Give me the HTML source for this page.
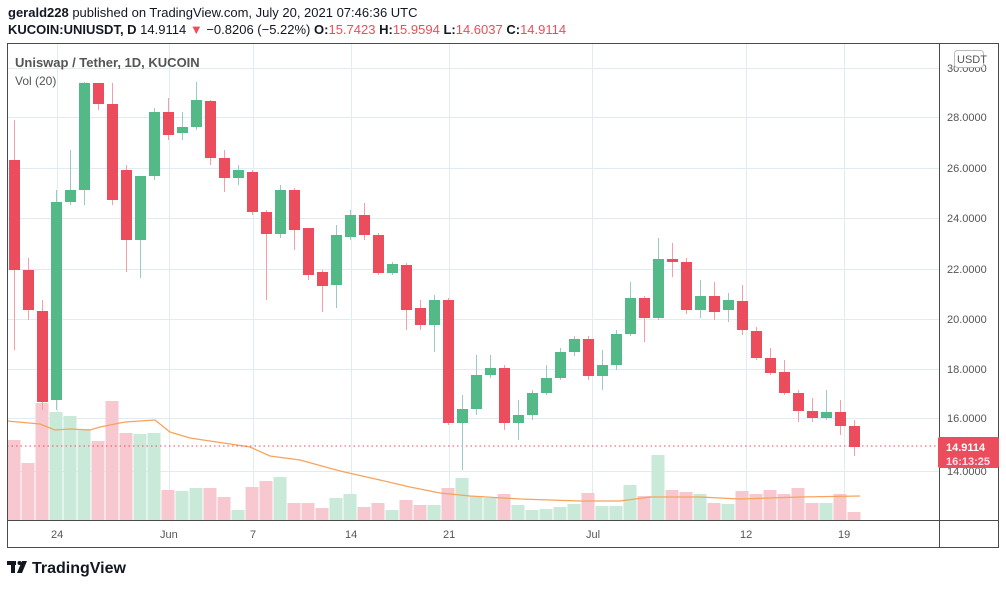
<!DOCTYPE html>
<html><head><meta charset="utf-8"><style>
body{margin:0;background:#fff;width:1006px;height:585px;overflow:hidden;font-family:"Liberation Sans",sans-serif}
svg text{font-family:"Liberation Sans",sans-serif}
</style></head><body>
<svg id="s" width="1006" height="585" xmlns="http://www.w3.org/2000/svg">
<text x="8" y="17" font-size="13" fill="#131722"><tspan font-weight="bold">gerald228</tspan> published on TradingView.com, July 20, 2021 07:46:36 UTC</text>
<text x="8" y="34" font-size="13" fill="#131722"><tspan font-weight="bold">KUCOIN:UNIUSDT, D</tspan> 14.9114 <tspan fill="#eb4d5c">▼</tspan> −0.8206 (−5.22%) <tspan font-weight="bold">O:</tspan><tspan fill="#eb4d5c">15.7423</tspan> <tspan font-weight="bold">H:</tspan><tspan fill="#eb4d5c">15.9594</tspan> <tspan font-weight="bold">L:</tspan><tspan fill="#eb4d5c">14.6037</tspan> <tspan font-weight="bold">C:</tspan><tspan fill="#eb4d5c">14.9114</tspan></text>
<g id="grid" stroke="#e1ecf2" stroke-width="1"></g>
<g id="vol"></g>
<polyline fill="none" stroke="#f7a35c" stroke-width="1.3" points="7,421 40,424 55,430 70,429 90,430 100,427 125,422 155,420 170,432 190,438 250,447 270,456 300,460 340,471 380,480 410,487 440,493 470,496 520,499 580,501 620,501 650,497 700,497 740,499 800,497 860,496"/>
<line x1="7" y1="446" x2="939" y2="446" stroke="#eb4d5c" stroke-dasharray="1.5,3"/>
<g id="c"></g>
<rect x="7.5" y="43.5" width="991" height="504" fill="none" stroke="#4a4a4a"/>
<line x1="939.5" y1="43" x2="939.5" y2="548" stroke="#4a4a4a"/>
<line x1="7" y1="520.5" x2="999" y2="520.5" stroke="#4a4a4a"/>
<text x="15" y="67" font-size="13" font-weight="bold" fill="#555">Uniswap / Tether, 1D, KUCOIN</text>
<text x="15" y="85" font-size="12" fill="#555">Vol (20)</text>
<g font-size="11" fill="#555">
<text x="947" y="72">30.0000</text><text x="947" y="121">28.0000</text><text x="947" y="172">26.0000</text><text x="947" y="222">24.0000</text><text x="947" y="273">22.0000</text><text x="947" y="323">20.0000</text><text x="947" y="373">18.0000</text><text x="947" y="422">16.0000</text><text x="947" y="475">14.0000</text>
<text x="51" y="538">24</text><text x="160" y="538">Jun</text><text x="250" y="538">7</text><text x="345" y="538">14</text><text x="443" y="538">21</text><text x="586" y="538">Jul</text><text x="740" y="538">12</text><text x="838" y="538">19</text>
</g>
<rect x="954.5" y="50.5" width="29" height="17" rx="3" fill="#fff" stroke="#bbb"/>
<text x="957" y="63" font-size="11" fill="#555">USDT</text>
<rect x="938" y="437" width="61" height="31" rx="2" fill="#eb4d5c"/>
<text x="946" y="451" font-size="11" font-weight="bold" fill="#fff">14.9114</text>
<text x="946" y="465" font-size="11" font-weight="bold" fill="#fde">16:13:25</text>
<g fill="#131722"><rect x="7" y="561" width="9" height="4"/><rect x="11" y="561" width="4" height="12"/><circle cx="19.5" cy="563" r="2"/><polygon points="22,561 27,561 22,573 17,573"/></g>
<text x="32" y="573" font-size="16" font-weight="bold" fill="#131722">TradingView</text>
</svg>
<script>
const NS="http://www.w3.org/2000/svg";
function el(p,t,a){const e=document.createElementNS(NS,t);for(const k in a)e.setAttribute(k,a[k]);p.appendChild(e);}
const g=document.getElementById('grid');
[68,117,168,218,269,319,369,418,471].forEach(y=>el(g,'line',{x1:7,x2:939,y1:y+.5,y2:y+.5}));
[57,169,253,351,449,592,746,844].forEach(x=>el(g,'line',{x1:x+.5,x2:x+.5,y1:43,y2:520}));
const C=[[0,160,270,120,350],[0,270,310,258,320],[0,311,402,300,410],[1,202,400,190,410],[1,190,202,150,205],[1,83,190,82,205],[0,83,104,83,110],[0,104,200,83,205],[0,170,240,165,272],[1,176,240,176,278],[1,112,176,108,180],[0,112,135,98,140],[1,127,133,112,140],[1,100,127,82,130],[0,101,158,100,165],[0,158,178,150,192],[1,170,178,165,185],[0,172,212,170,215],[0,212,234,210,300],[1,190,234,185,238],[0,190,230,188,250],[0,228,275,228,280],[0,272,286,270,312],[1,235,285,225,308],[1,215,237,210,240],[0,215,235,203,240],[0,235,273,233,275],[1,264,273,262,275],[0,265,310,263,330],[0,308,325,300,330],[1,300,325,295,352],[0,300,423,298,425],[1,409,423,395,470],[1,375,409,355,415],[1,368,375,355,378],[0,368,423,365,430],[1,415,423,400,440],[1,393,415,390,420],[1,378,393,365,395],[1,352,378,348,380],[1,339,352,336,356],[0,339,376,336,380],[1,365,376,350,390],[1,334,365,330,370],[1,298,334,282,336],[0,298,318,296,342],[1,259,318,238,320],[0,259,262,243,277],[0,262,310,258,314],[1,296,310,280,318],[0,296,312,282,320],[1,300,310,293,322],[0,301,330,285,335],[0,331,358,327,360],[0,358,373,348,375],[0,372,393,360,395],[0,393,411,390,422],[0,411,418,398,422],[1,412,418,390,420],[0,412,426,400,435],[0,426,447,420,456]];
const V=[440,463,403,412,416,429,441,401,433,434,433,490,491,488,488,497,510,487,481,477,503,503,508,498,494,507,503,510,500,505,505,488,478,496,498,494,505,510,509,507,504,493,506,506,485,496,455,490,492,494,503,504,491,494,490,494,488,503,503,494,512];
const cg=document.getElementById('c'),vg=document.getElementById('vol');
C.forEach((c,i)=>{const x=14+i*14;const up=c[0];
el(vg,'rect',{x:x-6.5,y:V[i],width:13,height:520-V[i],fill:up?'#c9ead9':'#f7c8cf'});
el(cg,'line',{x1:x+.5,x2:x+.5,y1:c[3],y2:c[4],stroke:up?'#9cc9c6':'#f59ea8','stroke-width':1});
el(cg,'rect',{x:x-5,y:c[1],width:11,height:Math.max(2,c[2]-c[1]),fill:up?'#53b987':'#eb4d5c'});});
</script>
</body></html>
